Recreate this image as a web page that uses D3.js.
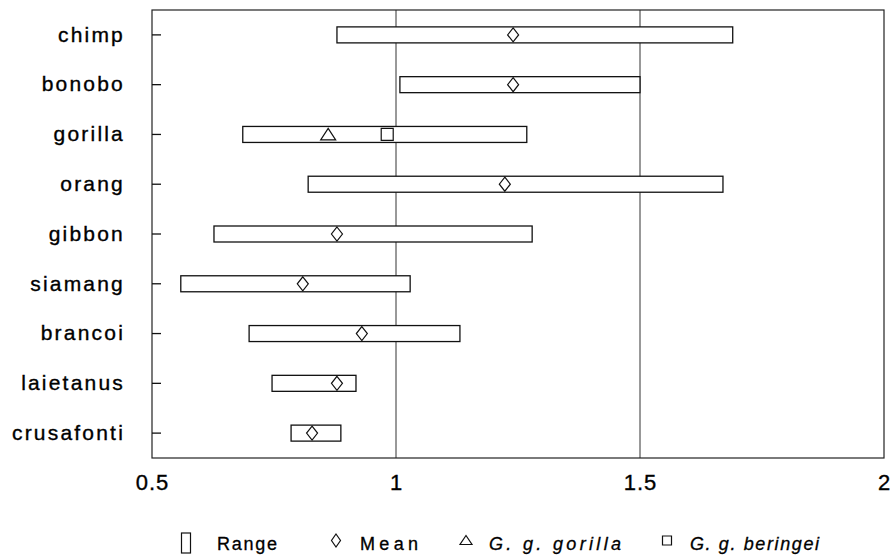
<html>
<head>
    <meta charset="utf-8">
    <title>Hominoid ranges</title>
    <style>
        body {
            padding: 0;
            margin: 0;
            background: white;
            font-family: "Liberation Sans", Arial, sans-serif;
        }

        .frame {
            fill: none;
            stroke: #222;
            stroke-width: 1.2;
        }

        .grid {
            stroke: #333;
            stroke-width: 1;
        }

        .range {
            fill: white;
            stroke: #111;
            stroke-width: 1.3;
        }

        .marker {
            fill: white;
            stroke: #111;
            stroke-width: 1.2;
        }

        .axis text {
            fill: black;
            stroke: black;
            stroke-width: 0.35;
        }

        .legend text {
            font-size: 18px;
            fill: black;
            stroke: black;
            stroke-width: 0.3;
        }
    </style>
</head>
<body>
    <div id="chart"></div>

    <script src="https://d3js.org/d3.v7.min.js"></script>
    <script>
        // values
        var species = ["chimp", "bonobo", "gorilla", "orang", "gibbon", "siamang", "brancoi", "laietanus", "crusafonti"];
        var rangeLow  = [0.879, 1.008, 0.686, 0.820, 0.627, 0.559, 0.699, 0.746, 0.785];
        var rangeHigh = [1.690, 1.500, 1.268, 1.670, 1.279, 1.029, 1.131, 0.918, 0.887];
        var means     = [1.240, 1.240, null,  1.223, 0.879, 0.809, 0.930, 0.879, 0.828];
        var ggGorilla = [{ name: "gorilla", value: 0.861 }];
        var ggBeringei = [{ name: "gorilla", value: 0.982 }];
        var xTicks = [0.5, 1, 1.5, 2];
        var gridValues = [1, 1.5];
        var legendItems = [
            { label: "Range", shape: "range", italic: false },
            { label: "Mean", shape: "diamond", italic: false },
            { label: "G. g. gorilla", shape: "triangle", italic: true },
            { label: "G. g. beringei", shape: "square", italic: true }
        ];

        var rows = species.map(function (s, i) {
            return { name: s, low: rangeLow[i], high: rangeHigh[i], mean: means[i] };
        });

        var width = 894, height = 559;
        var plot = { left: 152, right: 884, top: 10, bottom: 458 };

        var svg = d3.select("#chart")
            .append("svg")
            .attr("width", width)
            .attr("height", height);

        var x = d3.scaleLinear()
            .domain([0.5, 2])
            .range([plot.left, plot.right]);

        var y = d3.scaleBand()
            .domain(species)
            .range([plot.top, plot.bottom]);

        var barH = 16;
        var cy = function (name) { return y(name) + y.bandwidth() / 2; };

        // gridlines
        svg.append("g")
            .selectAll("line")
            .data(gridValues)
            .enter()
            .append("line")
            .attr("class", "grid")
            .attr("x1", function (d) { return x(d); })
            .attr("x2", function (d) { return x(d); })
            .attr("y1", plot.top)
            .attr("y2", plot.bottom);

        // frame
        svg.append("rect")
            .attr("class", "frame")
            .attr("x", plot.left)
            .attr("y", plot.top)
            .attr("width", plot.right - plot.left)
            .attr("height", plot.bottom - plot.top);

        // axes
        svg.append("g")
            .attr("class", "axis")
            .attr("transform", "translate(0," + plot.bottom + ")")
            .call(d3.axisBottom(x).tickValues(xTicks).tickSize(0).tickPadding(16).tickFormat(d3.format("")))
            .call(function (g) { g.select(".domain").remove(); })
            .selectAll("text")
            .attr("font-size", 22)
            .attr("font-family", "Liberation Sans, Arial, sans-serif")
            .style("letter-spacing", "1px");

        svg.append("g")
            .attr("class", "axis")
            .attr("transform", "translate(" + plot.left + ",0)")
            .call(d3.axisLeft(y).tickSize(-9).tickPadding(27))
            .call(function (g) {
                g.select(".domain").remove();
                g.selectAll(".tick line").attr("stroke", "#111").attr("stroke-width", 1.3);
            })
            .selectAll("text")
            .attr("font-size", 21)
            .attr("font-family", "Liberation Sans, Arial, sans-serif")
            .style("letter-spacing", "2.2px");

        // ranges
        svg.append("g")
            .selectAll("rect")
            .data(rows)
            .enter()
            .append("rect")
            .attr("class", "range")
            .attr("x", function (d) { return x(d.low); })
            .attr("y", function (d) { return cy(d.name) - barH / 2; })
            .attr("width", function (d) { return x(d.high) - x(d.low); })
            .attr("height", barH);

        var diamond = "M0,-7L5.5,0L0,7L-5.5,0Z";
        var triangle = "M0,-6L7.5,5.5L-7.5,5.5Z";
        var square = "M-6,-6H6V6H-6Z";

        svg.append("g")
            .selectAll("path")
            .data(rows.filter(function (d) { return d.mean !== null; }))
            .enter()
            .append("path")
            .attr("class", "marker")
            .attr("d", diamond)
            .attr("transform", function (d) { return "translate(" + x(d.mean) + "," + cy(d.name) + ")"; });

        svg.append("g")
            .selectAll("path")
            .data(ggGorilla)
            .enter()
            .append("path")
            .attr("class", "marker")
            .attr("d", triangle)
            .attr("transform", function (d) { return "translate(" + x(d.value) + "," + cy(d.name) + ")"; });

        svg.append("g")
            .selectAll("path")
            .data(ggBeringei)
            .enter()
            .append("path")
            .attr("class", "marker")
            .attr("d", square)
            .attr("transform", function (d) { return "translate(" + x(d.value) + "," + cy(d.name) + ")"; });

        // legend: symbol x, text x and text width per item
        var legendSymX = [186, 336, 466, 667];
        var legendTextX = [217, 360, 489, 690];
        var legendTextW = [60, 58, 132, 129];
        var ly = 543;
        var legend = svg.append("g").attr("class", "legend");
        legendItems.forEach(function (item, i) {
            var g = legend.append("g");
            var sym = g.append(item.shape === "range" ? "rect" : "path")
                .attr("class", "marker")
                .attr("stroke-width", 1);
            if (item.shape === "range") {
                sym.attr("x", legendSymX[i] - 4.5).attr("y", ly - 10).attr("width", 9).attr("height", 20);
            } else {
                var d = item.shape === "diamond" ? "M0,-6.5L4.5,0L0,6.5L-4.5,0Z"
                      : item.shape === "triangle" ? "M0,-5L6,4L-6,4Z"
                      : "M-4.5,-4.5H4.5V4.5H-4.5Z";
                sym.attr("d", d).attr("transform", "translate(" + legendSymX[i] + "," + (ly - 2.5) + ")");
            }
            g.append("text")
                .attr("x", legendTextX[i])
                .attr("y", ly + 7)
                .attr("textLength", legendTextW[i])
                .attr("lengthAdjust", "spacing")
                .style("font-style", item.italic ? "italic" : "normal")
                .text(item.label);
        });
    </script>
</body>
</html>
